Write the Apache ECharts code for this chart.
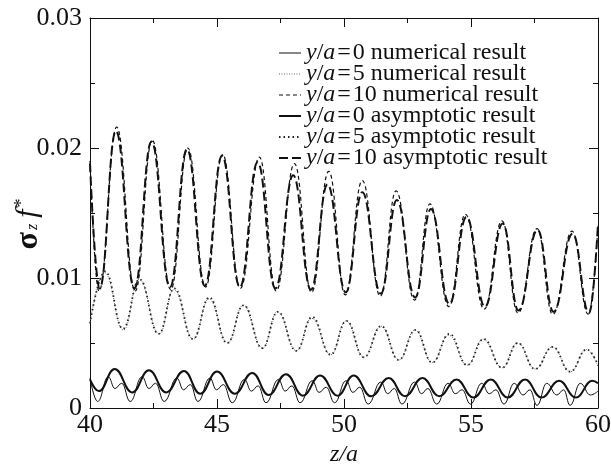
<!DOCTYPE html>
<html><head><meta charset="utf-8">
<script src="https://cdn.jsdelivr.net/npm/echarts@6/dist/echarts.min.js"></script>
<style>html,body{margin:0;padding:0;background:#fff}#c{width:611px;height:466px}</style>
</head><body><div id="c"></div>
<script>
// ---- data: [z/a, sigma_z f*] ----
const seriesNames = [
  'y/a=0 numerical result',
  'y/a=5 numerical result',
  'y/a=10 numerical result',
  'y/a=0 asymptotic result',
  'y/a=5 asymptotic result',
  'y/a=10 asymptotic result'
];
const xTickValues = [40, 45, 50, 55, 60];
const yTickValues = [0, 0.01, 0.02, 0.03];

const num0 = [
  [40.0,0.0023],
  [40.3,0.0005],[40.72,0.0024],[40.98,0.0015],[41.25,0.0019],
  [41.58,0.0005],[42.05,0.0024],[42.32,0.0015],[42.58,0.0019],
  [42.92,0.0005],[43.42,0.0023],[43.68,0.0014],[43.95,0.0018],
  [44.25,0.0005],[44.72,0.0023],[44.98,0.0014],[45.25,0.0018],
  [45.6,0.0004],[46.08,0.0022],[46.35,0.0013],[46.62,0.0017],
  [46.93,0.0004],[47.42,0.0022],[47.68,0.0013],[47.95,0.0017],
  [48.27,0.0004],[48.75,0.0021],[49.02,0.0012],[49.3,0.0016],
  [49.63,0.0004],[50.08,0.0021],[50.35,0.0012],[50.62,0.0016],
  [50.95,0.0003],[51.45,0.0020],[51.72,0.0011],[51.98,0.0015],
  [52.28,0.0003],[52.78,0.0020],[53.05,0.0011],[53.3,0.0015],
  [53.65,0.0003],[54.1,0.0019],[54.38,0.0011],[54.65,0.0014],
  [54.98,0.0003],[55.42,0.0019],[55.72,0.0011],[55.98,0.0014],
  [56.3,0.0003],[56.7,0.0019],[57.05,0.0010],[57.32,0.0014],
  [57.6,0.0002],[57.98,0.0019],[58.38,0.0010],[58.65,0.0014],
  [58.9,0.0002],[59.3,0.0019],[59.7,0.0010],[60.0,0.0013]
];
const asym0 = [
  [40.0,0.0022],[40.35,0.0013],[40.97,0.0030],[41.66,0.0012],[42.32,0.0029],
  [43.0,0.0012],[43.7,0.00285],[44.34,0.0011],[45.0,0.0028],[45.7,0.0011],
  [46.39,0.0027],[47.03,0.0010],[47.72,0.0026],[48.38,0.00095],[49.06,0.0025],
  [49.75,0.00095],[50.38,0.0025],[51.07,0.0009],[51.76,0.0023],[52.4,0.0009],
  [53.09,0.0023],[53.75,0.0009],[54.43,0.0022],[55.09,0.0008],[55.78,0.0022],
  [56.44,0.0008],[57.13,0.0022],[57.77,0.0008],[58.47,0.0021],[59.13,0.0008],
  [59.77,0.0021],[60.0,0.0019]
];
const num5 = [
  [40.0,0.0066],[40.58,0.0104],[41.32,0.0060],[41.93,0.0099],[42.73,0.0057],
  [43.3,0.0091],[44.07,0.0053],[44.68,0.0084],[45.42,0.0050],[46.03,0.0079],
  [46.8,0.0046],[47.37,0.0074],[48.13,0.0044],[48.72,0.0069],[49.49,0.0041],
  [50.07,0.0067],[50.79,0.0039],[51.45,0.0063],[52.17,0.0037],[52.79,0.0060],
  [53.48,0.0035],[54.12,0.0056],[54.86,0.0033],[55.47,0.0053],[56.24,0.0031],
  [56.82,0.0050],[57.54,0.0030],[58.2,0.0047],[58.92,0.0028],[59.54,0.0045],
  [60.0,0.0032]
];
const asym5 = [
  [40.0,0.0065],[40.6,0.0105],[41.3,0.0061],[41.95,0.0099],[42.7,0.0057],
  [43.32,0.0092],[44.05,0.0053],[44.7,0.0085],[45.4,0.0050],[46.05,0.0079],
  [46.78,0.0046],[47.4,0.0074],[48.12,0.0044],[48.75,0.0070],[49.47,0.0041],
  [50.1,0.0067],[50.78,0.0039],[51.47,0.0063],[52.15,0.0037],[52.82,0.0060],
  [53.47,0.0035],[54.15,0.0057],[54.85,0.0033],[55.5,0.0053],[56.22,0.0031],
  [56.85,0.0050],[57.52,0.0030],[58.22,0.0047],[58.9,0.0028],[59.56,0.0045],
  [60.0,0.0033]
];
const num10 = [
  [40.0,0.0190],[40.35,0.0090],[41.05,0.0216],[41.78,0.0090],[42.45,0.0206],
  [43.18,0.0091],[43.85,0.0200],[44.55,0.0093],[45.22,0.0195],[45.92,0.0092],
  [46.67,0.0193],[47.33,0.0090],[48.05,0.0188],[48.72,0.0089],[49.4,0.0182],
  [50.05,0.0087],[50.72,0.0175],[51.43,0.0086],[52.05,0.0167],[52.78,0.0083],
  [53.38,0.0157],[54.13,0.0078],[54.78,0.0149],[55.52,0.0076],[56.22,0.0144],
  [56.85,0.0073],[57.6,0.0138],[58.22,0.0072],[58.98,0.0136],[59.62,0.0072],
  [60.0,0.0140]
];
const asym10 = [
  [40.0,0.0188],[40.38,0.0092],[41.02,0.0213],[41.75,0.0092],[42.42,0.0205],
  [43.15,0.0093],[43.82,0.0199],[44.52,0.0094],[45.2,0.0194],[45.9,0.0093],
  [46.6,0.0189],[47.3,0.0092],[48.0,0.0179],[48.7,0.0091],[49.35,0.0172],
  [50.07,0.0089],[50.72,0.0166],[51.45,0.0088],[52.08,0.0160],[52.8,0.0085],
  [53.42,0.0153],[54.15,0.0080],[54.82,0.0147],[55.55,0.0078],[56.25,0.0142],
  [56.87,0.0075],[57.62,0.0137],[58.25,0.0074],[59.0,0.0134],[59.65,0.0073],
  [60.0,0.0142]
];

const FONT = 'Liberation Serif';
const chart = echarts.init(document.getElementById('c'), null, {renderer: 'canvas'});

const styles = [
  {color: '#111', width: 1, type: 'solid'},
  {color: '#666', width: 1, type: [1, 1.5]},
  {color: '#111', width: 1.2, type: [4, 3]},
  {color: '#111', width: 2, type: 'solid'},
  {color: '#222', width: 1.8, type: [1.5, 3]},
  {color: '#111', width: 2, type: [9, 4]}
];
const seriesData = [num0, num5, num10, asym0, asym5, asym10];

function mkSeries(i) {
  return {
    name: seriesNames[i], type: 'line', data: seriesData[i], xAxisIndex: 0, yAxisIndex: 0,
    showSymbol: false, symbol: 'none', smooth: 0.45, smoothMonotone: 'x',
    lineStyle: styles[i], itemStyle: {color: styles[i].color}, z: i < 3 ? 3 : 4,
    animation: false, silent: true
  };
}

const axisCommon = {
  axisLine: {show: true, onZero: false, lineStyle: {color: '#111', width: 1}},
  axisTick: {show: true, inside: true, length: 9, lineStyle: {color: '#111', width: 1}},
  minorTick: {show: true, splitNumber: 2, length: 5, lineStyle: {color: '#111', width: 1}},
  splitLine: {show: false}, minorSplitLine: {show: false}
};

const option = {
  backgroundColor: '#fff',
  animation: false,
  textStyle: {fontFamily: FONT, color: '#111'},
  grid: {left: 90, right: 13, top: 18, bottom: 58, outerBoundsMode: 'none', containLabel: false},
  legend: {
    orient: 'vertical', left: 273, top: 36, itemGap: -3, itemWidth: 22, itemHeight: 14,
    data: seriesNames.map((n, i) => ({name: n, lineStyle: {width: styles[i].width, type: styles[i].type, color: styles[i].color}})),
    itemStyle: {opacity: 0},
    textStyle: {
      fontFamily: FONT, fontSize: 24, lineHeight: 20, color: '#111',
      rich: {
        i: {fontFamily: FONT, fontStyle: 'italic', fontSize: 24, lineHeight: 20, color: '#111'},
        t: {fontFamily: FONT, fontSize: 24, lineHeight: 20, color: '#111'}
      }
    },
    formatter: function (name) {
      const m = name.match(/^y\/a=(\d+) (.*)$/);
      return '{i|y}{t|/}{i|a}{t|\u200A=\u200A' + m[1] + ' ' + m[2] + '}';
    }
  },
  xAxis: [
    Object.assign({
      type: 'value', min: 40, max: 60, interval: 5, position: 'bottom',
      axisLabel: {show: true, fontFamily: FONT, fontSize: 26, color: '#111', margin: 4,
        formatter: function (v) { return xTickValues.indexOf(v) >= 0 ? String(v) : ''; }},
      name: 'z/a', nameLocation: 'middle', nameGap: 25,
      nameTextStyle: {fontFamily: FONT, fontSize: 24, fontStyle: 'italic', color: '#111'}
    }, axisCommon),
    Object.assign({
      type: 'value', min: 40, max: 60, interval: 5, position: 'top',
      axisLabel: {show: false}
    }, axisCommon)
  ],
  yAxis: [
    Object.assign({
      type: 'value', min: 0, max: 0.03, interval: 0.01, position: 'left',
      axisLabel: {show: true, fontFamily: FONT, fontSize: 26, color: '#111', margin: 8,
        formatter: function (v) {
          const i = yTickValues.findIndex(t => Math.abs(t - v) < 1e-9);
          if (i < 0) return '';
          return i === 0 ? '0' : yTickValues[i].toFixed(2);
        }},
      name: '{s|σ}{z|z}{f|f}{st|*}', nameLocation: 'middle', nameGap: 49, nameRotate: 90,
      nameMoveOverlap: false,
      nameTextStyle: {
        fontFamily: FONT, color: '#111', padding: [0, 22, 0, 0],
        rich: {
          s: {fontFamily: FONT, fontSize: 32, fontWeight: 'bold', lineHeight: 28, verticalAlign: 'top', color: '#111'},
          z: {fontFamily: FONT, fontSize: 16, fontStyle: 'italic', lineHeight: 16, padding: [19, 6, 0, 2], verticalAlign: 'bottom', color: '#111'},
          f: {fontFamily: FONT, fontSize: 30, fontStyle: 'italic', lineHeight: 28, verticalAlign: 'top', color: '#111'},
          st: {fontFamily: FONT, fontSize: 18, lineHeight: 18, padding: [0, 0, 0, 2], verticalAlign: 'top', color: '#111'}
        }
      }
    }, axisCommon),
    Object.assign({
      type: 'value', min: 0, max: 0.03, interval: 0.01, position: 'right',
      axisLabel: {show: false}
    }, axisCommon)
  ],
  series: [0, 1, 2, 3, 4, 5].map(mkSeries)
};
chart.setOption(option);
</script>
</body></html>
